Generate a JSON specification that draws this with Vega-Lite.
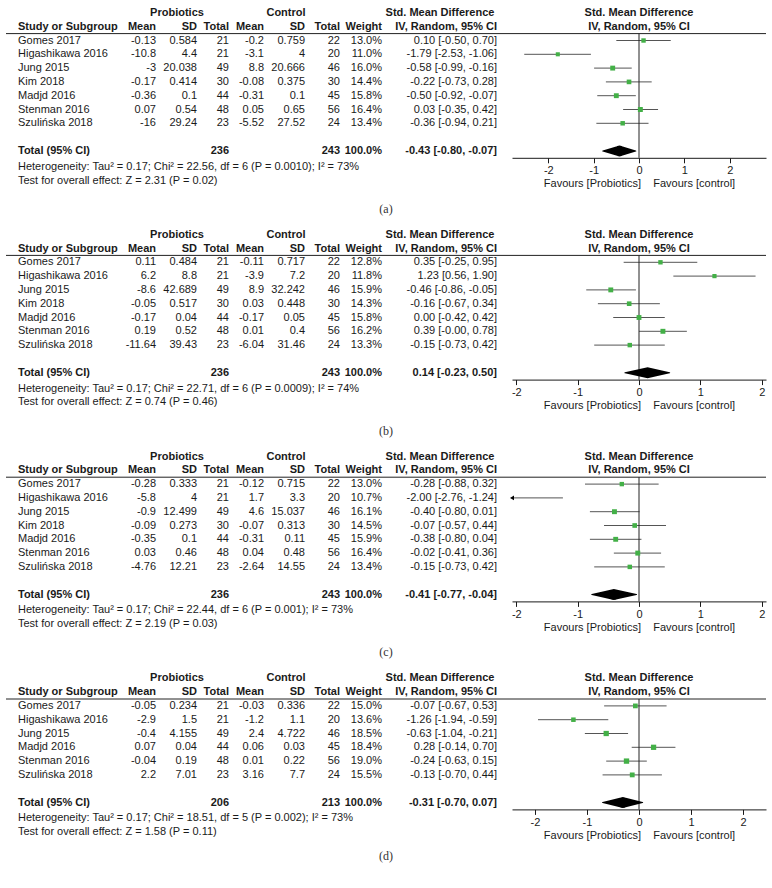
{
"$schema": "https://vega.github.io/schema/vega-lite/v6.json",
"background": "white",
"padding": {"left": 5, "top": 6, "right": 5, "bottom": 5},
"datasets": {
"pa": [
{"row":"h1","kind":"head","g1":"Probiotics","g2":"Control","g3":"Std. Mean Difference","fh":"Std. Mean Difference"},
{"row":"h2","kind":"head","study":"Study or Subgroup","pm":"Mean","psd":"SD","pn":"Total","cm":"Mean","csd":"SD","cn":"Total","w":"Weight","ci":"IV, Random, 95% CI","fh":"IV, Random, 95% CI"},
{"row":"Gomes 2017","kind":"study","study":"Gomes 2017","pm":-0.13,"psd":0.584,"pn":21,"cm":-0.2,"csd":0.759,"cn":22,"w":"13.0%","wt":13.0,"ci":"0.10 [-0.50, 0.70]","smd":0.10,"lo":-0.50,"hi":0.70},
{"row":"Higashikawa 2016","kind":"study","study":"Higashikawa 2016","pm":-10.8,"psd":4.4,"pn":21,"cm":-3.1,"csd":4,"cn":20,"w":"11.0%","wt":11.0,"ci":"-1.79 [-2.53, -1.06]","smd":-1.79,"lo":-2.53,"hi":-1.06},
{"row":"Jung 2015","kind":"study","study":"Jung 2015","pm":-3,"psd":20.038,"pn":49,"cm":8.8,"csd":20.666,"cn":46,"w":"16.0%","wt":16.0,"ci":"-0.58 [-0.99, -0.16]","smd":-0.58,"lo":-0.99,"hi":-0.16},
{"row":"Kim 2018","kind":"study","study":"Kim 2018","pm":-0.17,"psd":0.414,"pn":30,"cm":-0.08,"csd":0.375,"cn":30,"w":"14.4%","wt":14.4,"ci":"-0.22 [-0.73, 0.28]","smd":-0.22,"lo":-0.73,"hi":0.28},
{"row":"Madjd 2016","kind":"study","study":"Madjd 2016","pm":-0.36,"psd":0.1,"pn":44,"cm":-0.31,"csd":0.1,"cn":45,"w":"15.8%","wt":15.8,"ci":"-0.50 [-0.92, -0.07]","smd":-0.50,"lo":-0.92,"hi":-0.07},
{"row":"Stenman 2016","kind":"study","study":"Stenman 2016","pm":0.07,"psd":0.54,"pn":48,"cm":0.05,"csd":0.65,"cn":56,"w":"16.4%","wt":16.4,"ci":"0.03 [-0.35, 0.42]","smd":0.03,"lo":-0.35,"hi":0.42},
{"row":"Szulińska 2018","kind":"study","study":"Szulińska 2018","pm":-16,"psd":29.24,"pn":23,"cm":-5.52,"csd":27.52,"cn":24,"w":"13.4%","wt":13.4,"ci":"-0.36 [-0.94, 0.21]","smd":-0.36,"lo":-0.94,"hi":0.21},
{"row":"total","kind":"total","study":"Total (95% CI)","pn":236,"cn":243,"w":"100.0%","ci":"-0.43 [-0.80, -0.07]","smd":-0.43,"lo":-0.80,"hi":-0.07},
{"row":"het","kind":"note","study":"Heterogeneity: Tau² = 0.17; Chi² = 22.56, df = 6 (P = 0.0010); I² = 73%"},
{"row":"test","kind":"note","study":"Test for overall effect: Z = 2.31 (P = 0.02)"}
],
"pb": [
{"row":"h1","kind":"head","g1":"Probiotics","g2":"Control","g3":"Std. Mean Difference","fh":"Std. Mean Difference"},
{"row":"h2","kind":"head","study":"Study or Subgroup","pm":"Mean","psd":"SD","pn":"Total","cm":"Mean","csd":"SD","cn":"Total","w":"Weight","ci":"IV, Random, 95% CI","fh":"IV, Random, 95% CI"},
{"row":"Gomes 2017","kind":"study","study":"Gomes 2017","pm":0.11,"psd":0.484,"pn":21,"cm":-0.11,"csd":0.717,"cn":22,"w":"12.8%","wt":12.8,"ci":"0.35 [-0.25, 0.95]","smd":0.35,"lo":-0.25,"hi":0.95},
{"row":"Higashikawa 2016","kind":"study","study":"Higashikawa 2016","pm":6.2,"psd":8.8,"pn":21,"cm":-3.9,"csd":7.2,"cn":20,"w":"11.8%","wt":11.8,"ci":"1.23 [0.56, 1.90]","smd":1.23,"lo":0.56,"hi":1.90},
{"row":"Jung 2015","kind":"study","study":"Jung 2015","pm":-8.6,"psd":42.689,"pn":49,"cm":8.9,"csd":32.242,"cn":46,"w":"15.9%","wt":15.9,"ci":"-0.46 [-0.86, -0.05]","smd":-0.46,"lo":-0.86,"hi":-0.05},
{"row":"Kim 2018","kind":"study","study":"Kim 2018","pm":-0.05,"psd":0.517,"pn":30,"cm":0.03,"csd":0.448,"cn":30,"w":"14.3%","wt":14.3,"ci":"-0.16 [-0.67, 0.34]","smd":-0.16,"lo":-0.67,"hi":0.34},
{"row":"Madjd 2016","kind":"study","study":"Madjd 2016","pm":-0.17,"psd":0.04,"pn":44,"cm":-0.17,"csd":0.05,"cn":45,"w":"15.8%","wt":15.8,"ci":"0.00 [-0.42, 0.42]","smd":0.00,"lo":-0.42,"hi":0.42},
{"row":"Stenman 2016","kind":"study","study":"Stenman 2016","pm":0.19,"psd":0.52,"pn":48,"cm":0.01,"csd":0.4,"cn":56,"w":"16.2%","wt":16.2,"ci":"0.39 [-0.00, 0.78]","smd":0.39,"lo":0.00,"hi":0.78},
{"row":"Szulińska 2018","kind":"study","study":"Szulińska 2018","pm":-11.64,"psd":39.43,"pn":23,"cm":-6.04,"csd":31.46,"cn":24,"w":"13.3%","wt":13.3,"ci":"-0.15 [-0.73, 0.42]","smd":-0.15,"lo":-0.73,"hi":0.42},
{"row":"total","kind":"total","study":"Total (95% CI)","pn":236,"cn":243,"w":"100.0%","ci":"0.14 [-0.23, 0.50]","smd":0.14,"lo":-0.23,"hi":0.50},
{"row":"het","kind":"note","study":"Heterogeneity: Tau² = 0.17; Chi² = 22.71, df = 6 (P = 0.0009); I² = 74%"},
{"row":"test","kind":"note","study":"Test for overall effect: Z = 0.74 (P = 0.46)"}
],
"pc": [
{"row":"h1","kind":"head","g1":"Probiotics","g2":"Control","g3":"Std. Mean Difference","fh":"Std. Mean Difference"},
{"row":"h2","kind":"head","study":"Study or Subgroup","pm":"Mean","psd":"SD","pn":"Total","cm":"Mean","csd":"SD","cn":"Total","w":"Weight","ci":"IV, Random, 95% CI","fh":"IV, Random, 95% CI"},
{"row":"Gomes 2017","kind":"study","study":"Gomes 2017","pm":-0.28,"psd":0.333,"pn":21,"cm":-0.12,"csd":0.715,"cn":22,"w":"13.0%","wt":13.0,"ci":"-0.28 [-0.88, 0.32]","smd":-0.28,"lo":-0.88,"hi":0.32},
{"row":"Higashikawa 2016","kind":"study","study":"Higashikawa 2016","pm":-5.8,"psd":4,"pn":21,"cm":1.7,"csd":3.3,"cn":20,"w":"10.7%","wt":10.7,"ci":"-2.00 [-2.76, -1.24]","smd":-2.00,"lo":-2.76,"hi":-1.24},
{"row":"Jung 2015","kind":"study","study":"Jung 2015","pm":-0.9,"psd":12.499,"pn":49,"cm":4.6,"csd":15.037,"cn":46,"w":"16.1%","wt":16.1,"ci":"-0.40 [-0.80, 0.01]","smd":-0.40,"lo":-0.80,"hi":0.01},
{"row":"Kim 2018","kind":"study","study":"Kim 2018","pm":-0.09,"psd":0.273,"pn":30,"cm":-0.07,"csd":0.313,"cn":30,"w":"14.5%","wt":14.5,"ci":"-0.07 [-0.57, 0.44]","smd":-0.07,"lo":-0.57,"hi":0.44},
{"row":"Madjd 2016","kind":"study","study":"Madjd 2016","pm":-0.35,"psd":0.1,"pn":44,"cm":-0.31,"csd":0.11,"cn":45,"w":"15.9%","wt":15.9,"ci":"-0.38 [-0.80, 0.04]","smd":-0.38,"lo":-0.80,"hi":0.04},
{"row":"Stenman 2016","kind":"study","study":"Stenman 2016","pm":0.03,"psd":0.46,"pn":48,"cm":0.04,"csd":0.48,"cn":56,"w":"16.4%","wt":16.4,"ci":"-0.02 [-0.41, 0.36]","smd":-0.02,"lo":-0.41,"hi":0.36},
{"row":"Szulińska 2018","kind":"study","study":"Szulińska 2018","pm":-4.76,"psd":12.21,"pn":23,"cm":-2.64,"csd":14.55,"cn":24,"w":"13.4%","wt":13.4,"ci":"-0.15 [-0.73, 0.42]","smd":-0.15,"lo":-0.73,"hi":0.42},
{"row":"total","kind":"total","study":"Total (95% CI)","pn":236,"cn":243,"w":"100.0%","ci":"-0.41 [-0.77, -0.04]","smd":-0.41,"lo":-0.77,"hi":-0.04},
{"row":"het","kind":"note","study":"Heterogeneity: Tau² = 0.17; Chi² = 22.44, df = 6 (P = 0.001); I² = 73%"},
{"row":"test","kind":"note","study":"Test for overall effect: Z = 2.19 (P = 0.03)"}
],
"pd": [
{"row":"h1","kind":"head","g1":"Probiotics","g2":"Control","g3":"Std. Mean Difference","fh":"Std. Mean Difference"},
{"row":"h2","kind":"head","study":"Study or Subgroup","pm":"Mean","psd":"SD","pn":"Total","cm":"Mean","csd":"SD","cn":"Total","w":"Weight","ci":"IV, Random, 95% CI","fh":"IV, Random, 95% CI"},
{"row":"Gomes 2017","kind":"study","study":"Gomes 2017","pm":-0.05,"psd":0.234,"pn":21,"cm":-0.03,"csd":0.336,"cn":22,"w":"15.0%","wt":15.0,"ci":"-0.07 [-0.67, 0.53]","smd":-0.07,"lo":-0.67,"hi":0.53},
{"row":"Higashikawa 2016","kind":"study","study":"Higashikawa 2016","pm":-2.9,"psd":1.5,"pn":21,"cm":-1.2,"csd":1.1,"cn":20,"w":"13.6%","wt":13.6,"ci":"-1.26 [-1.94, -0.59]","smd":-1.26,"lo":-1.94,"hi":-0.59},
{"row":"Jung 2015","kind":"study","study":"Jung 2015","pm":-0.4,"psd":4.155,"pn":49,"cm":2.4,"csd":4.722,"cn":46,"w":"18.5%","wt":18.5,"ci":"-0.63 [-1.04, -0.21]","smd":-0.63,"lo":-1.04,"hi":-0.21},
{"row":"Madjd 2016","kind":"study","study":"Madjd 2016","pm":0.07,"psd":0.04,"pn":44,"cm":0.06,"csd":0.03,"cn":45,"w":"18.4%","wt":18.4,"ci":"0.28 [-0.14, 0.70]","smd":0.28,"lo":-0.14,"hi":0.70},
{"row":"Stenman 2016","kind":"study","study":"Stenman 2016","pm":-0.04,"psd":0.19,"pn":48,"cm":0.01,"csd":0.22,"cn":56,"w":"19.0%","wt":19.0,"ci":"-0.24 [-0.63, 0.15]","smd":-0.24,"lo":-0.63,"hi":0.15},
{"row":"Szulińska 2018","kind":"study","study":"Szulińska 2018","pm":2.2,"psd":7.01,"pn":23,"cm":3.16,"csd":7.7,"cn":24,"w":"15.5%","wt":15.5,"ci":"-0.13 [-0.70, 0.44]","smd":-0.13,"lo":-0.70,"hi":0.44},
{"row":"total","kind":"total","study":"Total (95% CI)","pn":206,"cn":213,"w":"100.0%","ci":"-0.31 [-0.70, 0.07]","smd":-0.31,"lo":-0.70,"hi":0.07},
{"row":"het","kind":"note","study":"Heterogeneity: Tau² = 0.17; Chi² = 18.51, df = 5 (P = 0.002); I² = 73%"},
{"row":"test","kind":"note","study":"Test for overall effect: Z = 1.58 (P = 0.11)"}
]
},
"vconcat": [
{"title": {"text": "(a)", "orient": "bottom", "anchor": "middle", "offset": 15},
 "bounds": "flush", "spacing": 0,
 "hconcat": [
 {"width": 506, "height": 179.4, "data": {"name": "pa"},
  "encoding": {"y": {"field": "row", "type": "nominal", "axis": null, "scale": {"domain": ["h1","h2","Gomes 2017","Higashikawa 2016","Jung 2015","Kim 2018","Madjd 2016","Stenman 2016","Szulińska 2018","gap","total","het","test"], "paddingInner": 0, "paddingOuter": 0}}},
  "resolve": {"scale": {"x": "independent"}},
  "layer": [
   {"transform": [{"filter": "isValid(datum.study)"}], "mark": {"type": "text", "align": "left", "dy": {"expr": "datum.kind == 'note' ? 2 : 0"}, "fontWeight": {"expr": "datum.kind == 'study' || datum.kind == 'note' ? 'normal' : 'bold'"}}, "encoding": {"x": {"datum": "Study", "type": "nominal", "axis": null, "scale": {"type": "point", "range": [12, 12]}}, "text": {"field": "study", "type": "nominal"}}},
   {"transform": [{"filter": "isValid(datum.pm)"}], "mark": {"type": "text", "align": "right", "fontWeight": {"expr": "datum.kind == 'study' || datum.kind == 'note' ? 'normal' : 'bold'"}}, "encoding": {"x": {"datum": "Probiotics Mean", "type": "nominal", "axis": null, "scale": {"type": "point", "range": [150, 150]}}, "text": {"field": "pm", "type": "nominal"}}},
   {"transform": [{"filter": "isValid(datum.psd)"}], "mark": {"type": "text", "align": "right", "fontWeight": {"expr": "datum.kind == 'study' || datum.kind == 'note' ? 'normal' : 'bold'"}}, "encoding": {"x": {"datum": "Probiotics SD", "type": "nominal", "axis": null, "scale": {"type": "point", "range": [191, 191]}}, "text": {"field": "psd", "type": "nominal"}}},
   {"transform": [{"filter": "isValid(datum.pn)"}], "mark": {"type": "text", "align": "right", "fontWeight": {"expr": "datum.kind == 'study' || datum.kind == 'note' ? 'normal' : 'bold'"}}, "encoding": {"x": {"datum": "Probiotics Total", "type": "nominal", "axis": null, "scale": {"type": "point", "range": [223, 223]}}, "text": {"field": "pn", "type": "nominal"}}},
   {"transform": [{"filter": "isValid(datum.cm)"}], "mark": {"type": "text", "align": "right", "fontWeight": {"expr": "datum.kind == 'study' || datum.kind == 'note' ? 'normal' : 'bold'"}}, "encoding": {"x": {"datum": "Control Mean", "type": "nominal", "axis": null, "scale": {"type": "point", "range": [258, 258]}}, "text": {"field": "cm", "type": "nominal"}}},
   {"transform": [{"filter": "isValid(datum.csd)"}], "mark": {"type": "text", "align": "right", "fontWeight": {"expr": "datum.kind == 'study' || datum.kind == 'note' ? 'normal' : 'bold'"}}, "encoding": {"x": {"datum": "Control SD", "type": "nominal", "axis": null, "scale": {"type": "point", "range": [299, 299]}}, "text": {"field": "csd", "type": "nominal"}}},
   {"transform": [{"filter": "isValid(datum.cn)"}], "mark": {"type": "text", "align": "right", "fontWeight": {"expr": "datum.kind == 'study' || datum.kind == 'note' ? 'normal' : 'bold'"}}, "encoding": {"x": {"datum": "Control Total", "type": "nominal", "axis": null, "scale": {"type": "point", "range": [334, 334]}}, "text": {"field": "cn", "type": "nominal"}}},
   {"transform": [{"filter": "isValid(datum.w)"}], "mark": {"type": "text", "align": "right", "fontWeight": {"expr": "datum.kind == 'study' || datum.kind == 'note' ? 'normal' : 'bold'"}}, "encoding": {"x": {"datum": "Weight", "type": "nominal", "axis": null, "scale": {"type": "point", "range": [376, 376]}}, "text": {"field": "w", "type": "nominal"}}},
   {"transform": [{"filter": "isValid(datum.ci)"}], "mark": {"type": "text", "align": "right", "fontWeight": {"expr": "datum.kind == 'study' || datum.kind == 'note' ? 'normal' : 'bold'"}}, "encoding": {"x": {"datum": "SMD", "type": "nominal", "axis": null, "scale": {"type": "point", "range": [491, 491]}}, "text": {"field": "ci", "type": "nominal"}}},
   {"transform": [{"filter": "isValid(datum.g1)"}], "mark": {"type": "text", "align": "center", "fontWeight": "bold"}, "encoding": {"x": {"datum": "Probiotics", "type": "nominal", "axis": null, "scale": {"type": "point", "range": [171, 171]}}, "text": {"field": "g1", "type": "nominal"}}},
   {"transform": [{"filter": "isValid(datum.g2)"}], "mark": {"type": "text", "align": "center", "fontWeight": "bold"}, "encoding": {"x": {"datum": "Control", "type": "nominal", "axis": null, "scale": {"type": "point", "range": [280, 280]}}, "text": {"field": "g2", "type": "nominal"}}},
   {"transform": [{"filter": "isValid(datum.g3)"}], "mark": {"type": "text", "align": "center", "fontWeight": "bold"}, "encoding": {"x": {"datum": "SMD group", "type": "nominal", "axis": null, "scale": {"type": "point", "range": [434, 434]}}, "text": {"field": "g3", "type": "nominal"}}},
   {"transform": [{"filter": "datum.row == 'h2'"}], "mark": {"type": "rule", "color": "#222"}, "encoding": {"y": {"datum": "h2", "bandPosition": 1}}}
  ]},
 {"width": 254, "height": 151.8, "data": {"name": "pa"},
  "encoding": {"y": {"field": "row", "type": "nominal", "axis": null, "scale": {"domain": ["h1","h2","Gomes 2017","Higashikawa 2016","Jung 2015","Kim 2018","Madjd 2016","Stenman 2016","Szulińska 2018","gap","total"], "paddingInner": 0, "paddingOuter": 0}}},
  "layer": [
   {"transform": [{"filter": "isValid(datum.fh)"}], "mark": {"type": "text", "fontWeight": "bold"}, "encoding": {"text": {"field": "fh", "type": "nominal"}}},
   {"transform": [{"filter": "datum.row == 'h2'"}], "mark": {"type": "rule", "color": "#222"}, "encoding": {"y": {"datum": "h2", "bandPosition": 1}}},
   {"transform": [{"filter": "datum.kind == 'study'"}], "mark": {"type": "rule", "color": "#555"}, "encoding": {"x": {"field": "lo", "type": "quantitative", "scale": {"domain": [-2.8, 2.8], "nice": false, "clamp": true}, "title": "Favours [Probiotics] \u00a0\u00a0 Favours [control]", "axis": {"values": [-2, -1, 0, 1, 2], "labelExpr": "'' + datum.value"}}, "x2": {"field": "hi"}}},
   {"transform": [{"filter": "datum.row == 'h2'"}], "mark": {"type": "rule", "color": "#222"}, "encoding": {"x": {"datum": 0, "type": "quantitative", "title": "Favours [Probiotics] \u00a0\u00a0 Favours [control]"}, "y": {"datum": "h2", "bandPosition": 1}, "y2": {"value": "height"}}},
   {"transform": [{"filter": "datum.kind == 'study'"}], "mark": {"type": "point", "shape": "square", "filled": true, "color": "#43b047", "opacity": 1}, "encoding": {"x": {"field": "smd", "type": "quantitative", "title": "Favours [Probiotics] \u00a0\u00a0 Favours [control]"}, "size": {"field": "wt", "type": "quantitative", "scale": {"domain": [0, 20], "range": [0, 30]}, "legend": null}}},
   {"transform": [{"filter": "datum.kind == 'total'"}, {"fold": ["lo", "smd", "hi"], "as": ["key", "value"]}], "mark": {"type": "trail", "color": "#000"}, "encoding": {"x": {"field": "value", "type": "quantitative", "title": "Favours [Probiotics] \u00a0\u00a0 Favours [control]"}, "order": {"field": "value", "type": "quantitative"}, "size": {"condition": {"test": "datum.key == 'smd'", "value": 11}, "value": 0}}}
  ]}
 ]},
{"title": {"text": "(b)", "orient": "bottom", "anchor": "middle", "offset": 15},
 "bounds": "flush", "spacing": 0,
 "hconcat": [
 {"width": 506, "height": 179.4, "data": {"name": "pb"},
  "encoding": {"y": {"field": "row", "type": "nominal", "axis": null, "scale": {"domain": ["h1","h2","Gomes 2017","Higashikawa 2016","Jung 2015","Kim 2018","Madjd 2016","Stenman 2016","Szulińska 2018","gap","total","het","test"], "paddingInner": 0, "paddingOuter": 0}}},
  "resolve": {"scale": {"x": "independent"}},
  "layer": [
   {"transform": [{"filter": "isValid(datum.study)"}], "mark": {"type": "text", "align": "left", "dy": {"expr": "datum.kind == 'note' ? 2 : 0"}, "fontWeight": {"expr": "datum.kind == 'study' || datum.kind == 'note' ? 'normal' : 'bold'"}}, "encoding": {"x": {"datum": "Study", "type": "nominal", "axis": null, "scale": {"type": "point", "range": [12, 12]}}, "text": {"field": "study", "type": "nominal"}}},
   {"transform": [{"filter": "isValid(datum.pm)"}], "mark": {"type": "text", "align": "right", "fontWeight": {"expr": "datum.kind == 'study' || datum.kind == 'note' ? 'normal' : 'bold'"}}, "encoding": {"x": {"datum": "Probiotics Mean", "type": "nominal", "axis": null, "scale": {"type": "point", "range": [150, 150]}}, "text": {"field": "pm", "type": "nominal"}}},
   {"transform": [{"filter": "isValid(datum.psd)"}], "mark": {"type": "text", "align": "right", "fontWeight": {"expr": "datum.kind == 'study' || datum.kind == 'note' ? 'normal' : 'bold'"}}, "encoding": {"x": {"datum": "Probiotics SD", "type": "nominal", "axis": null, "scale": {"type": "point", "range": [191, 191]}}, "text": {"field": "psd", "type": "nominal"}}},
   {"transform": [{"filter": "isValid(datum.pn)"}], "mark": {"type": "text", "align": "right", "fontWeight": {"expr": "datum.kind == 'study' || datum.kind == 'note' ? 'normal' : 'bold'"}}, "encoding": {"x": {"datum": "Probiotics Total", "type": "nominal", "axis": null, "scale": {"type": "point", "range": [223, 223]}}, "text": {"field": "pn", "type": "nominal"}}},
   {"transform": [{"filter": "isValid(datum.cm)"}], "mark": {"type": "text", "align": "right", "fontWeight": {"expr": "datum.kind == 'study' || datum.kind == 'note' ? 'normal' : 'bold'"}}, "encoding": {"x": {"datum": "Control Mean", "type": "nominal", "axis": null, "scale": {"type": "point", "range": [258, 258]}}, "text": {"field": "cm", "type": "nominal"}}},
   {"transform": [{"filter": "isValid(datum.csd)"}], "mark": {"type": "text", "align": "right", "fontWeight": {"expr": "datum.kind == 'study' || datum.kind == 'note' ? 'normal' : 'bold'"}}, "encoding": {"x": {"datum": "Control SD", "type": "nominal", "axis": null, "scale": {"type": "point", "range": [299, 299]}}, "text": {"field": "csd", "type": "nominal"}}},
   {"transform": [{"filter": "isValid(datum.cn)"}], "mark": {"type": "text", "align": "right", "fontWeight": {"expr": "datum.kind == 'study' || datum.kind == 'note' ? 'normal' : 'bold'"}}, "encoding": {"x": {"datum": "Control Total", "type": "nominal", "axis": null, "scale": {"type": "point", "range": [334, 334]}}, "text": {"field": "cn", "type": "nominal"}}},
   {"transform": [{"filter": "isValid(datum.w)"}], "mark": {"type": "text", "align": "right", "fontWeight": {"expr": "datum.kind == 'study' || datum.kind == 'note' ? 'normal' : 'bold'"}}, "encoding": {"x": {"datum": "Weight", "type": "nominal", "axis": null, "scale": {"type": "point", "range": [376, 376]}}, "text": {"field": "w", "type": "nominal"}}},
   {"transform": [{"filter": "isValid(datum.ci)"}], "mark": {"type": "text", "align": "right", "fontWeight": {"expr": "datum.kind == 'study' || datum.kind == 'note' ? 'normal' : 'bold'"}}, "encoding": {"x": {"datum": "SMD", "type": "nominal", "axis": null, "scale": {"type": "point", "range": [491, 491]}}, "text": {"field": "ci", "type": "nominal"}}},
   {"transform": [{"filter": "isValid(datum.g1)"}], "mark": {"type": "text", "align": "center", "fontWeight": "bold"}, "encoding": {"x": {"datum": "Probiotics", "type": "nominal", "axis": null, "scale": {"type": "point", "range": [171, 171]}}, "text": {"field": "g1", "type": "nominal"}}},
   {"transform": [{"filter": "isValid(datum.g2)"}], "mark": {"type": "text", "align": "center", "fontWeight": "bold"}, "encoding": {"x": {"datum": "Control", "type": "nominal", "axis": null, "scale": {"type": "point", "range": [280, 280]}}, "text": {"field": "g2", "type": "nominal"}}},
   {"transform": [{"filter": "isValid(datum.g3)"}], "mark": {"type": "text", "align": "center", "fontWeight": "bold"}, "encoding": {"x": {"datum": "SMD group", "type": "nominal", "axis": null, "scale": {"type": "point", "range": [434, 434]}}, "text": {"field": "g3", "type": "nominal"}}},
   {"transform": [{"filter": "datum.row == 'h2'"}], "mark": {"type": "rule", "color": "#222"}, "encoding": {"y": {"datum": "h2", "bandPosition": 1}}}
  ]},
 {"width": 254, "height": 151.8, "data": {"name": "pb"},
  "encoding": {"y": {"field": "row", "type": "nominal", "axis": null, "scale": {"domain": ["h1","h2","Gomes 2017","Higashikawa 2016","Jung 2015","Kim 2018","Madjd 2016","Stenman 2016","Szulińska 2018","gap","total"], "paddingInner": 0, "paddingOuter": 0}}},
  "layer": [
   {"transform": [{"filter": "isValid(datum.fh)"}], "mark": {"type": "text", "fontWeight": "bold"}, "encoding": {"text": {"field": "fh", "type": "nominal"}}},
   {"transform": [{"filter": "datum.row == 'h2'"}], "mark": {"type": "rule", "color": "#222"}, "encoding": {"y": {"datum": "h2", "bandPosition": 1}}},
   {"transform": [{"filter": "datum.kind == 'study'"}], "mark": {"type": "rule", "color": "#555"}, "encoding": {"x": {"field": "lo", "type": "quantitative", "scale": {"domain": [-2.07, 2.07], "nice": false, "clamp": true}, "title": "Favours [Probiotics] \u00a0\u00a0 Favours [control]", "axis": {"values": [-2, -1, 0, 1, 2], "labelExpr": "'' + datum.value"}}, "x2": {"field": "hi"}}},
   {"transform": [{"filter": "datum.row == 'h2'"}], "mark": {"type": "rule", "color": "#222"}, "encoding": {"x": {"datum": 0, "type": "quantitative", "title": "Favours [Probiotics] \u00a0\u00a0 Favours [control]"}, "y": {"datum": "h2", "bandPosition": 1}, "y2": {"value": "height"}}},
   {"transform": [{"filter": "datum.kind == 'study'"}], "mark": {"type": "point", "shape": "square", "filled": true, "color": "#43b047", "opacity": 1}, "encoding": {"x": {"field": "smd", "type": "quantitative", "title": "Favours [Probiotics] \u00a0\u00a0 Favours [control]"}, "size": {"field": "wt", "type": "quantitative", "scale": {"domain": [0, 20], "range": [0, 30]}, "legend": null}}},
   {"transform": [{"filter": "datum.kind == 'total'"}, {"fold": ["lo", "smd", "hi"], "as": ["key", "value"]}], "mark": {"type": "trail", "color": "#000"}, "encoding": {"x": {"field": "value", "type": "quantitative", "title": "Favours [Probiotics] \u00a0\u00a0 Favours [control]"}, "order": {"field": "value", "type": "quantitative"}, "size": {"condition": {"test": "datum.key == 'smd'", "value": 11}, "value": 0}}}
  ]}
 ]},
{"title": {"text": "(c)", "orient": "bottom", "anchor": "middle", "offset": 15},
 "bounds": "flush", "spacing": 0,
 "hconcat": [
 {"width": 506, "height": 179.4, "data": {"name": "pc"},
  "encoding": {"y": {"field": "row", "type": "nominal", "axis": null, "scale": {"domain": ["h1","h2","Gomes 2017","Higashikawa 2016","Jung 2015","Kim 2018","Madjd 2016","Stenman 2016","Szulińska 2018","gap","total","het","test"], "paddingInner": 0, "paddingOuter": 0}}},
  "resolve": {"scale": {"x": "independent"}},
  "layer": [
   {"transform": [{"filter": "isValid(datum.study)"}], "mark": {"type": "text", "align": "left", "dy": {"expr": "datum.kind == 'note' ? 2 : 0"}, "fontWeight": {"expr": "datum.kind == 'study' || datum.kind == 'note' ? 'normal' : 'bold'"}}, "encoding": {"x": {"datum": "Study", "type": "nominal", "axis": null, "scale": {"type": "point", "range": [12, 12]}}, "text": {"field": "study", "type": "nominal"}}},
   {"transform": [{"filter": "isValid(datum.pm)"}], "mark": {"type": "text", "align": "right", "fontWeight": {"expr": "datum.kind == 'study' || datum.kind == 'note' ? 'normal' : 'bold'"}}, "encoding": {"x": {"datum": "Probiotics Mean", "type": "nominal", "axis": null, "scale": {"type": "point", "range": [150, 150]}}, "text": {"field": "pm", "type": "nominal"}}},
   {"transform": [{"filter": "isValid(datum.psd)"}], "mark": {"type": "text", "align": "right", "fontWeight": {"expr": "datum.kind == 'study' || datum.kind == 'note' ? 'normal' : 'bold'"}}, "encoding": {"x": {"datum": "Probiotics SD", "type": "nominal", "axis": null, "scale": {"type": "point", "range": [191, 191]}}, "text": {"field": "psd", "type": "nominal"}}},
   {"transform": [{"filter": "isValid(datum.pn)"}], "mark": {"type": "text", "align": "right", "fontWeight": {"expr": "datum.kind == 'study' || datum.kind == 'note' ? 'normal' : 'bold'"}}, "encoding": {"x": {"datum": "Probiotics Total", "type": "nominal", "axis": null, "scale": {"type": "point", "range": [223, 223]}}, "text": {"field": "pn", "type": "nominal"}}},
   {"transform": [{"filter": "isValid(datum.cm)"}], "mark": {"type": "text", "align": "right", "fontWeight": {"expr": "datum.kind == 'study' || datum.kind == 'note' ? 'normal' : 'bold'"}}, "encoding": {"x": {"datum": "Control Mean", "type": "nominal", "axis": null, "scale": {"type": "point", "range": [258, 258]}}, "text": {"field": "cm", "type": "nominal"}}},
   {"transform": [{"filter": "isValid(datum.csd)"}], "mark": {"type": "text", "align": "right", "fontWeight": {"expr": "datum.kind == 'study' || datum.kind == 'note' ? 'normal' : 'bold'"}}, "encoding": {"x": {"datum": "Control SD", "type": "nominal", "axis": null, "scale": {"type": "point", "range": [299, 299]}}, "text": {"field": "csd", "type": "nominal"}}},
   {"transform": [{"filter": "isValid(datum.cn)"}], "mark": {"type": "text", "align": "right", "fontWeight": {"expr": "datum.kind == 'study' || datum.kind == 'note' ? 'normal' : 'bold'"}}, "encoding": {"x": {"datum": "Control Total", "type": "nominal", "axis": null, "scale": {"type": "point", "range": [334, 334]}}, "text": {"field": "cn", "type": "nominal"}}},
   {"transform": [{"filter": "isValid(datum.w)"}], "mark": {"type": "text", "align": "right", "fontWeight": {"expr": "datum.kind == 'study' || datum.kind == 'note' ? 'normal' : 'bold'"}}, "encoding": {"x": {"datum": "Weight", "type": "nominal", "axis": null, "scale": {"type": "point", "range": [376, 376]}}, "text": {"field": "w", "type": "nominal"}}},
   {"transform": [{"filter": "isValid(datum.ci)"}], "mark": {"type": "text", "align": "right", "fontWeight": {"expr": "datum.kind == 'study' || datum.kind == 'note' ? 'normal' : 'bold'"}}, "encoding": {"x": {"datum": "SMD", "type": "nominal", "axis": null, "scale": {"type": "point", "range": [491, 491]}}, "text": {"field": "ci", "type": "nominal"}}},
   {"transform": [{"filter": "isValid(datum.g1)"}], "mark": {"type": "text", "align": "center", "fontWeight": "bold"}, "encoding": {"x": {"datum": "Probiotics", "type": "nominal", "axis": null, "scale": {"type": "point", "range": [171, 171]}}, "text": {"field": "g1", "type": "nominal"}}},
   {"transform": [{"filter": "isValid(datum.g2)"}], "mark": {"type": "text", "align": "center", "fontWeight": "bold"}, "encoding": {"x": {"datum": "Control", "type": "nominal", "axis": null, "scale": {"type": "point", "range": [280, 280]}}, "text": {"field": "g2", "type": "nominal"}}},
   {"transform": [{"filter": "isValid(datum.g3)"}], "mark": {"type": "text", "align": "center", "fontWeight": "bold"}, "encoding": {"x": {"datum": "SMD group", "type": "nominal", "axis": null, "scale": {"type": "point", "range": [434, 434]}}, "text": {"field": "g3", "type": "nominal"}}},
   {"transform": [{"filter": "datum.row == 'h2'"}], "mark": {"type": "rule", "color": "#222"}, "encoding": {"y": {"datum": "h2", "bandPosition": 1}}}
  ]},
 {"width": 254, "height": 151.8, "data": {"name": "pc"},
  "encoding": {"y": {"field": "row", "type": "nominal", "axis": null, "scale": {"domain": ["h1","h2","Gomes 2017","Higashikawa 2016","Jung 2015","Kim 2018","Madjd 2016","Stenman 2016","Szulińska 2018","gap","total"], "paddingInner": 0, "paddingOuter": 0}}},
  "layer": [
   {"transform": [{"filter": "isValid(datum.fh)"}], "mark": {"type": "text", "fontWeight": "bold"}, "encoding": {"text": {"field": "fh", "type": "nominal"}}},
   {"transform": [{"filter": "datum.row == 'h2'"}], "mark": {"type": "rule", "color": "#222"}, "encoding": {"y": {"datum": "h2", "bandPosition": 1}}},
   {"transform": [{"filter": "datum.kind == 'study'"}], "mark": {"type": "rule", "color": "#555"}, "encoding": {"x": {"field": "lo", "type": "quantitative", "scale": {"domain": [-2.07, 2.07], "nice": false, "clamp": true}, "title": "Favours [Probiotics] \u00a0\u00a0 Favours [control]", "axis": {"values": [-2, -1, 0, 1, 2], "labelExpr": "'' + datum.value"}}, "x2": {"field": "hi"}}},
   {"transform": [{"filter": "datum.row == 'h2'"}], "mark": {"type": "rule", "color": "#222"}, "encoding": {"x": {"datum": 0, "type": "quantitative", "title": "Favours [Probiotics] \u00a0\u00a0 Favours [control]"}, "y": {"datum": "h2", "bandPosition": 1}, "y2": {"value": "height"}}},
   {"transform": [{"filter": "datum.kind == 'study' && datum.smd > -2"}], "mark": {"type": "point", "shape": "square", "filled": true, "color": "#43b047", "opacity": 1}, "encoding": {"x": {"field": "smd", "type": "quantitative", "title": "Favours [Probiotics] \u00a0\u00a0 Favours [control]"}, "size": {"field": "wt", "type": "quantitative", "scale": {"domain": [0, 20], "range": [0, 30]}, "legend": null}}},
   {"transform": [{"filter": "datum.kind == 'study' && datum.lo < -2.07"}], "mark": {"type": "point", "shape": "triangle-left", "filled": true, "color": "#000", "opacity": 1, "size": 22}, "encoding": {"x": {"field": "lo", "type": "quantitative", "title": "Favours [Probiotics] \u00a0\u00a0 Favours [control]"}}},
   {"transform": [{"filter": "datum.kind == 'total'"}, {"fold": ["lo", "smd", "hi"], "as": ["key", "value"]}], "mark": {"type": "trail", "color": "#000"}, "encoding": {"x": {"field": "value", "type": "quantitative", "title": "Favours [Probiotics] \u00a0\u00a0 Favours [control]"}, "order": {"field": "value", "type": "quantitative"}, "size": {"condition": {"test": "datum.key == 'smd'", "value": 11}, "value": 0}}}
  ]}
 ]},
{"title": {"text": "(d)", "orient": "bottom", "anchor": "middle", "offset": 11},
 "bounds": "flush", "spacing": 0,
 "hconcat": [
 {"width": 506, "height": 165.6, "data": {"name": "pd"},
  "encoding": {"y": {"field": "row", "type": "nominal", "axis": null, "scale": {"domain": ["h1","h2","Gomes 2017","Higashikawa 2016","Jung 2015","Madjd 2016","Stenman 2016","Szulińska 2018","gap","total","het","test"], "paddingInner": 0, "paddingOuter": 0}}},
  "resolve": {"scale": {"x": "independent"}},
  "layer": [
   {"transform": [{"filter": "isValid(datum.study)"}], "mark": {"type": "text", "align": "left", "dy": {"expr": "datum.kind == 'note' ? 2 : 0"}, "fontWeight": {"expr": "datum.kind == 'study' || datum.kind == 'note' ? 'normal' : 'bold'"}}, "encoding": {"x": {"datum": "Study", "type": "nominal", "axis": null, "scale": {"type": "point", "range": [12, 12]}}, "text": {"field": "study", "type": "nominal"}}},
   {"transform": [{"filter": "isValid(datum.pm)"}], "mark": {"type": "text", "align": "right", "fontWeight": {"expr": "datum.kind == 'study' || datum.kind == 'note' ? 'normal' : 'bold'"}}, "encoding": {"x": {"datum": "Probiotics Mean", "type": "nominal", "axis": null, "scale": {"type": "point", "range": [150, 150]}}, "text": {"field": "pm", "type": "nominal"}}},
   {"transform": [{"filter": "isValid(datum.psd)"}], "mark": {"type": "text", "align": "right", "fontWeight": {"expr": "datum.kind == 'study' || datum.kind == 'note' ? 'normal' : 'bold'"}}, "encoding": {"x": {"datum": "Probiotics SD", "type": "nominal", "axis": null, "scale": {"type": "point", "range": [191, 191]}}, "text": {"field": "psd", "type": "nominal"}}},
   {"transform": [{"filter": "isValid(datum.pn)"}], "mark": {"type": "text", "align": "right", "fontWeight": {"expr": "datum.kind == 'study' || datum.kind == 'note' ? 'normal' : 'bold'"}}, "encoding": {"x": {"datum": "Probiotics Total", "type": "nominal", "axis": null, "scale": {"type": "point", "range": [223, 223]}}, "text": {"field": "pn", "type": "nominal"}}},
   {"transform": [{"filter": "isValid(datum.cm)"}], "mark": {"type": "text", "align": "right", "fontWeight": {"expr": "datum.kind == 'study' || datum.kind == 'note' ? 'normal' : 'bold'"}}, "encoding": {"x": {"datum": "Control Mean", "type": "nominal", "axis": null, "scale": {"type": "point", "range": [258, 258]}}, "text": {"field": "cm", "type": "nominal"}}},
   {"transform": [{"filter": "isValid(datum.csd)"}], "mark": {"type": "text", "align": "right", "fontWeight": {"expr": "datum.kind == 'study' || datum.kind == 'note' ? 'normal' : 'bold'"}}, "encoding": {"x": {"datum": "Control SD", "type": "nominal", "axis": null, "scale": {"type": "point", "range": [299, 299]}}, "text": {"field": "csd", "type": "nominal"}}},
   {"transform": [{"filter": "isValid(datum.cn)"}], "mark": {"type": "text", "align": "right", "fontWeight": {"expr": "datum.kind == 'study' || datum.kind == 'note' ? 'normal' : 'bold'"}}, "encoding": {"x": {"datum": "Control Total", "type": "nominal", "axis": null, "scale": {"type": "point", "range": [334, 334]}}, "text": {"field": "cn", "type": "nominal"}}},
   {"transform": [{"filter": "isValid(datum.w)"}], "mark": {"type": "text", "align": "right", "fontWeight": {"expr": "datum.kind == 'study' || datum.kind == 'note' ? 'normal' : 'bold'"}}, "encoding": {"x": {"datum": "Weight", "type": "nominal", "axis": null, "scale": {"type": "point", "range": [376, 376]}}, "text": {"field": "w", "type": "nominal"}}},
   {"transform": [{"filter": "isValid(datum.ci)"}], "mark": {"type": "text", "align": "right", "fontWeight": {"expr": "datum.kind == 'study' || datum.kind == 'note' ? 'normal' : 'bold'"}}, "encoding": {"x": {"datum": "SMD", "type": "nominal", "axis": null, "scale": {"type": "point", "range": [491, 491]}}, "text": {"field": "ci", "type": "nominal"}}},
   {"transform": [{"filter": "isValid(datum.g1)"}], "mark": {"type": "text", "align": "center", "fontWeight": "bold"}, "encoding": {"x": {"datum": "Probiotics", "type": "nominal", "axis": null, "scale": {"type": "point", "range": [171, 171]}}, "text": {"field": "g1", "type": "nominal"}}},
   {"transform": [{"filter": "isValid(datum.g2)"}], "mark": {"type": "text", "align": "center", "fontWeight": "bold"}, "encoding": {"x": {"datum": "Control", "type": "nominal", "axis": null, "scale": {"type": "point", "range": [280, 280]}}, "text": {"field": "g2", "type": "nominal"}}},
   {"transform": [{"filter": "isValid(datum.g3)"}], "mark": {"type": "text", "align": "center", "fontWeight": "bold"}, "encoding": {"x": {"datum": "SMD group", "type": "nominal", "axis": null, "scale": {"type": "point", "range": [434, 434]}}, "text": {"field": "g3", "type": "nominal"}}},
   {"transform": [{"filter": "datum.row == 'h2'"}], "mark": {"type": "rule", "color": "#222"}, "encoding": {"y": {"datum": "h2", "bandPosition": 1}}}
  ]},
 {"width": 254, "height": 138, "data": {"name": "pd"},
  "encoding": {"y": {"field": "row", "type": "nominal", "axis": null, "scale": {"domain": ["h1","h2","Gomes 2017","Higashikawa 2016","Jung 2015","Madjd 2016","Stenman 2016","Szulińska 2018","gap","total"], "paddingInner": 0, "paddingOuter": 0}}},
  "layer": [
   {"transform": [{"filter": "isValid(datum.fh)"}], "mark": {"type": "text", "fontWeight": "bold"}, "encoding": {"text": {"field": "fh", "type": "nominal"}}},
   {"transform": [{"filter": "datum.row == 'h2'"}], "mark": {"type": "rule", "color": "#222"}, "encoding": {"y": {"datum": "h2", "bandPosition": 1}}},
   {"transform": [{"filter": "datum.kind == 'study'"}], "mark": {"type": "rule", "color": "#555"}, "encoding": {"x": {"field": "lo", "type": "quantitative", "scale": {"domain": [-2.44, 2.44], "nice": false, "clamp": true}, "title": "Favours [Probiotics] \u00a0\u00a0 Favours [control]", "axis": {"values": [-2, -1, 0, 1, 2], "labelExpr": "'' + datum.value"}}, "x2": {"field": "hi"}}},
   {"transform": [{"filter": "datum.row == 'h2'"}], "mark": {"type": "rule", "color": "#222"}, "encoding": {"x": {"datum": 0, "type": "quantitative", "title": "Favours [Probiotics] \u00a0\u00a0 Favours [control]"}, "y": {"datum": "h2", "bandPosition": 1}, "y2": {"value": "height"}}},
   {"transform": [{"filter": "datum.kind == 'study'"}], "mark": {"type": "point", "shape": "square", "filled": true, "color": "#43b047", "opacity": 1}, "encoding": {"x": {"field": "smd", "type": "quantitative", "title": "Favours [Probiotics] \u00a0\u00a0 Favours [control]"}, "size": {"field": "wt", "type": "quantitative", "scale": {"domain": [0, 20], "range": [0, 30]}, "legend": null}}},
   {"transform": [{"filter": "datum.kind == 'total'"}, {"fold": ["lo", "smd", "hi"], "as": ["key", "value"]}], "mark": {"type": "trail", "color": "#000"}, "encoding": {"x": {"field": "value", "type": "quantitative", "title": "Favours [Probiotics] \u00a0\u00a0 Favours [control]"}, "order": {"field": "value", "type": "quantitative"}, "size": {"condition": {"test": "datum.key == 'smd'", "value": 11}, "value": 0}}}
  ]}
 ]}
],
"spacing": 12.8,
"config": {
 "view": {"stroke": null},
 "text": {"font": "Liberation Sans", "fontSize": 11, "color": "#1a1a1a"},
 "axis": {"grid": false, "domainColor": "#1a1a1a", "tickColor": "#1a1a1a", "tickSize": 5, "labelFont": "Liberation Sans", "labelFontSize": 11, "labelColor": "#1a1a1a", "labelPadding": 2, "titleFont": "Liberation Sans", "titleFontSize": 11, "titleFontWeight": "normal", "titleColor": "#1a1a1a", "titlePadding": 2},
 "title": {"font": "Liberation Serif", "fontSize": 12, "fontWeight": "normal", "color": "#333"}
}
}
